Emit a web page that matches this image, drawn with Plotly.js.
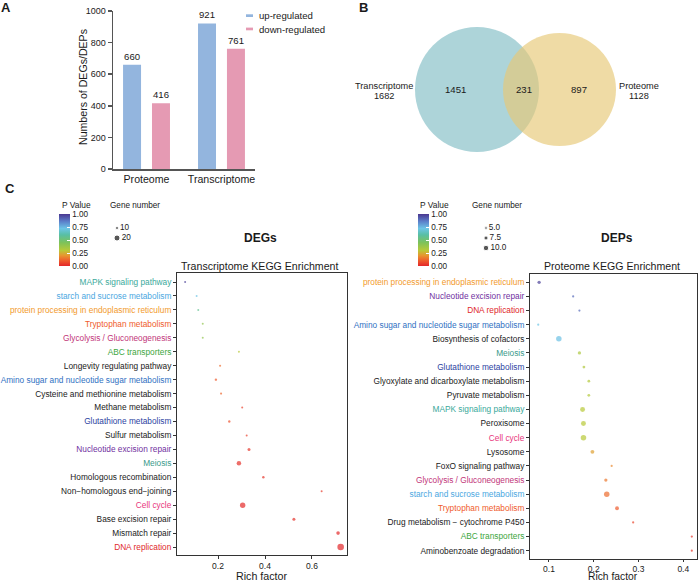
<!DOCTYPE html>
<html>
<head>
<meta charset="utf-8">
<script src="https://cdn.plot.ly/plotly-3.0.1.min.js"></script>
<style>
  html, body { margin: 0; padding: 0; background: #fff; }
  #chart { width: 700px; height: 582px; }
</style>
</head>
<body>
<div id="chart"></div>
<script>
// ---- Panel A: numbers of differentially expressed genes / proteins ----
const omicsLayers = ['Proteome', 'Transcriptome'];
const upRegulated = [660, 921];
const downRegulated = [416, 761];

// ---- Panel B: overlap of transcriptome and proteome ----
const vennSets = ['Transcriptome', 'Proteome'];
const vennTotals = [1682, 1128];
const transcriptomeOnly = 1451;
const sharedCount = 231;
const proteomeOnly = 897;

// ---- Panel C (left): transcriptome KEGG enrichment ----
const degPathways = [
  'MAPK signaling pathway',
  'starch and sucrose metabolism',
  'protein processing in endoplasmic reticulum',
  'Tryptophan metabolism',
  'Glycolysis / Gluconeogenesis',
  'ABC transporters',
  'Longevity regulating pathway',
  'Amino sugar and nucleotide sugar metabolism',
  'Cysteine and methionine metabolism',
  'Methane metabolism',
  'Glutathione metabolism',
  'Sulfur metabolism',
  'Nucleotide excision repair',
  'Meiosis',
  'Homologous recombination',
  'Non\u2212homologous end\u2212joining',
  'Cell cycle',
  'Base excision repair',
  'Mismatch repair',
  'DNA replication'
];
const degRichFactor = [0.060, 0.109, 0.116, 0.135, 0.135, 0.289, 0.209, 0.191, 0.213, 0.303,
                       0.248, 0.322, 0.332, 0.289, 0.393, 0.641, 0.305, 0.523, 0.711, 0.722];
const degPValue = [0.98, 0.72, 0.56, 0.40, 0.40, 0.30, 0.13, 0.10, 0.12, 0.05,
                   0.08, 0.05, 0.03, 0.02, 0.03, 0.04, 0.01, 0.02, 0.005, 0.001];
const degGeneNumber = [5, 4, 6, 5, 5, 4, 7, 8, 7, 5,
                       8, 5, 10, 15, 8, 5, 18, 10, 12, 22];

// ---- Panel C (right): proteome KEGG enrichment ----
const depPathways = [
  'protein processing in endoplasmic reticulum',
  'Nucleotide excision repair',
  'DNA replication',
  'Amino sugar and nucleotide sugar metabolism',
  'Biosynthesis of cofactors',
  'Meiosis',
  'Glutathione metabolism',
  'Glyoxylate and dicarboxylate metabolism',
  'Pyruvate metabolism',
  'MAPK signaling pathway',
  'Peroxisome',
  'Cell cycle',
  'Lysosome',
  'FoxO signaling pathway',
  'Glycolysis / Gluconeogenesis',
  'starch and sucrose metabolism',
  'Tryptophan metabolism',
  'Drug metabolism \u2212 cytochrome P450',
  'ABC transporters',
  'Aminobenzoate degradation'
];
const depRichFactor = [0.078, 0.154, 0.168, 0.076, 0.122, 0.168, 0.178, 0.189, 0.189, 0.175,
                       0.177, 0.177, 0.197, 0.240, 0.227, 0.229, 0.252, 0.288, 0.419, 0.419];
const depPValue = [0.98, 0.90, 0.90, 0.72, 0.73, 0.33, 0.32, 0.31, 0.31, 0.30,
                   0.30, 0.30, 0.22, 0.18, 0.15, 0.13, 0.10, 0.06, 0.03, 0.03];
const depGeneNumber = [6, 4, 4, 4, 10, 6, 5, 5, 5, 9,
                       9, 10, 7, 4, 6, 10, 7, 4, 4, 4];

// ---- legend keys ----
const degSizeKeys = [10, 20];
const depSizeKeys = [5.0, 7.5, 10.0];
const pValueTicks = [0, 0.25, 0.5, 0.75, 1];

// ---- styling ----
const FONT = 'Liberation Sans, Arial, Helvetica, sans-serif';
const INK = '#1a1a1a';
const W = 700, H = 582;
const fx = x => x / W;        // pixel column -> paper x
const fy = y => 1 - y / H;    // pixel row -> paper y

const pathwayColor = {
  'MAPK signaling pathway': '#3aa99b',
  'starch and sucrose metabolism': '#4aa7df',
  'protein processing in endoplasmic reticulum': '#f29a2c',
  'Tryptophan metabolism': '#ef5b2b',
  'Glycolysis / Gluconeogenesis': '#bf3479',
  'ABC transporters': '#3da63d',
  'Amino sugar and nucleotide sugar metabolism': '#3071c2',
  'Glutathione metabolism': '#2c3f9f',
  'Nucleotide excision repair': '#7030a0',
  'Meiosis': '#3a9a8a',
  'Cell cycle': '#e8357d',
  'DNA replication': '#e0282b'
};
const styledLabel = name => pathwayColor[name]
  ? `<span style="color:${pathwayColor[name]}">${name}</span>` : name;

const pColorscale = [
  [0.00, '#e3262a'], [0.10, '#ee5a2c'], [0.20, '#e8952f'], [0.30, '#b8c938'],
  [0.45, '#7dc25a'], [0.60, '#58bfa5'], [0.72, '#6cc5e6'], [0.86, '#5b7ec9'],
  [1.00, '#4a3790']
];
const degSizeRef = 20 / 6;
const depSizeRef = 10 / 5.5;

function colorbarAt(leftPx) {
  return {
    x: fx(leftPx), xanchor: 'left', xpad: 0,
    y: fy(214), yanchor: 'top', ypad: 0,
    len: 52, lenmode: 'pixels',
    thickness: 11, thicknessmode: 'pixels',
    outlinewidth: 0,
    tickmode: 'array', tickvals: pValueTicks,
    ticktext: pValueTicks.map(v => v.toFixed(2)),
    ticks: 'inside', ticklen: 3, tickcolor: '#ffffff', tickwidth: 1,
    tickfont: { family: FONT, size: 8.2, color: INK }
  };
}

const traces = [
  // Panel A bars
  {
    type: 'bar', x: omicsLayers, y: upRegulated, name: 'up-regulated',
    xaxis: 'x', yaxis: 'y', width: 0.24, offset: -0.313,
    marker: { color: '#93b5de' },
    text: upRegulated.map(String), textposition: 'outside', cliponaxis: false,
    textfont: { family: FONT, size: 9.6, color: INK }
  },
  {
    type: 'bar', x: omicsLayers, y: downRegulated, name: 'down-regulated',
    xaxis: 'x', yaxis: 'y', width: 0.24, offset: 0.073,
    marker: { color: '#e59ab3' },
    text: downRegulated.map(String), textposition: 'outside', cliponaxis: false,
    textfont: { family: FONT, size: 9.6, color: INK }
  },
  // Panel C left: bubble plot
  {
    type: 'scatter', mode: 'markers', x: degRichFactor, y: degPathways,
    xaxis: 'x3', yaxis: 'y3', cliponaxis: false,
    marker: {
      size: degGeneNumber, sizemode: 'diameter', sizeref: degSizeRef, sizemin: 1,
      color: degPValue, cmin: 0, cmax: 1, colorscale: pColorscale,
      showscale: true, colorbar: colorbarAt(59), line: { width: 0 }
    }
  },
  // Panel C right: bubble plot
  {
    type: 'scatter', mode: 'markers', x: depRichFactor, y: depPathways,
    xaxis: 'x4', yaxis: 'y4', cliponaxis: false,
    marker: {
      size: depGeneNumber, sizemode: 'diameter', sizeref: depSizeRef, sizemin: 1,
      color: depPValue, cmin: 0, cmax: 1, colorscale: pColorscale,
      showscale: true, colorbar: colorbarAt(418), line: { width: 0 }
    }
  },
  // Gene number keys
  {
    type: 'scatter', mode: 'markers+text', xaxis: 'x5', yaxis: 'y5',
    x: degSizeKeys.map(() => 0), y: degSizeKeys.map((_, i) => i),
    text: degSizeKeys.map(String), textposition: 'middle right', cliponaxis: false,
    textfont: { family: FONT, size: 8.2, color: INK },
    marker: { size: degSizeKeys, sizemode: 'diameter', sizeref: degSizeRef, color: '#111' }
  },
  {
    type: 'scatter', mode: 'markers+text', xaxis: 'x6', yaxis: 'y6',
    x: depSizeKeys.map(() => 0), y: depSizeKeys.map((_, i) => i),
    text: depSizeKeys.map(v => v.toFixed(1)), textposition: 'middle right', cliponaxis: false,
    textfont: { family: FONT, size: 8.2, color: INK },
    marker: { size: depSizeKeys, sizemode: 'diameter', sizeref: depSizeRef, color: '#111' }
  }
];

const frameAxis = {
  showline: true, mirror: true, linecolor: '#333', linewidth: 1,
  showgrid: false, zeroline: false,
  ticks: 'outside', ticklen: 3, tickcolor: '#333', tickwidth: 1
};
const hiddenAxis = { visible: false, showgrid: false, zeroline: false, fixedrange: true };

const layout = {
  width: W, height: H,
  margin: { l: 0, r: 0, t: 0, b: 0 },
  paper_bgcolor: '#ffffff', plot_bgcolor: 'rgba(0,0,0,0)',
  font: { family: FONT, color: INK },
  showlegend: false,
  // Panel A axes
  xaxis: {
    domain: [fx(113), fx(255)], anchor: 'y', type: 'category',
    range: [-0.447, 1.447], showline: true, linecolor: '#555', linewidth: 1.5,
    ticks: '', showgrid: false, zeroline: false,
    tickfont: { family: FONT, size: 10.6, color: INK }
  },
  yaxis: {
    domain: [fy(169), fy(11)], anchor: 'x', range: [0, 1000],
    tickmode: 'array', tickvals: [0, 200, 400, 600, 800, 1000],
    ticks: 'outside', ticklen: 4, tickcolor: '#555', tickwidth: 1.5,
    showline: true, linecolor: '#555', linewidth: 1.5,
    showgrid: false, zeroline: false,
    tickfont: { family: FONT, size: 9, color: INK }
  },
  // Panel C left axes
  xaxis3: Object.assign({}, frameAxis, {
    domain: [fx(177), fx(347)], anchor: 'y3', range: [0.0255, 0.749],
    tickmode: 'array', tickvals: [0.2, 0.4, 0.6], ticktext: ['0.2', '0.4', '0.6'],
    tickfont: { family: FONT, size: 8.5, color: INK }
  }),
  yaxis3: Object.assign({}, frameAxis, {
    domain: [fy(555), fy(273)], anchor: 'x3', type: 'category',
    categoryorder: 'array', categoryarray: degPathways,
    range: [19.57, -0.645],
    tickmode: 'array', tickvals: degPathways, ticktext: degPathways.map(styledLabel),
    tickfont: { family: FONT, size: 8.3, color: INK }
  }),
  // Panel C right axes
  xaxis4: Object.assign({}, frameAxis, {
    domain: [fx(530), fx(697)], anchor: 'y4', range: [0.0576, 0.4306],
    tickmode: 'array', tickvals: [0.1, 0.2, 0.3, 0.4], ticktext: ['0.1', '0.2', '0.3', '0.4'],
    ticklen: 2,
    tickfont: { family: FONT, size: 8.5, color: INK }
  }),
  yaxis4: Object.assign({}, frameAxis, {
    domain: [fy(559), fy(274)], anchor: 'x4', type: 'category',
    categoryorder: 'array', categoryarray: depPathways,
    range: [19.59, -0.59],
    tickmode: 'array', tickvals: depPathways, ticktext: depPathways.map(styledLabel),
    tickfont: { family: FONT, size: 8.3, color: INK }
  }),
  // Gene number key axes
  xaxis5: Object.assign({}, hiddenAxis, { domain: [fx(110), fx(160)], anchor: 'y5', range: [-7, 43] }),
  yaxis5: Object.assign({}, hiddenAxis, { domain: [fy(250), fy(220)], anchor: 'x5', range: [2.2, -0.8] }),
  xaxis6: Object.assign({}, hiddenAxis, { domain: [fx(478), fx(540)], anchor: 'y6', range: [-8, 54] }),
  yaxis6: Object.assign({}, hiddenAxis, { domain: [fy(258), fy(220)], anchor: 'x6', range: [3, -0.8] }),

  shapes: [
    // Venn circles
    { type: 'circle', xref: 'paper', yref: 'paper', layer: 'below',
      x0: fx(415), x1: fx(539), y0: fy(152), y1: fy(27),
      fillcolor: 'rgba(118,184,191,0.6)', line: { width: 0 } },
    { type: 'circle', xref: 'paper', yref: 'paper', layer: 'below',
      x0: fx(503), x1: fx(616), y0: fy(146), y1: fy(33),
      fillcolor: 'rgba(231,201,118,0.66)', line: { width: 0 } },
    // Panel A legend keys
    { type: 'rect', xref: 'paper', yref: 'paper', x0: fx(246), x1: fx(253), y0: fy(17), y1: fy(14.3),
      fillcolor: '#93b5de', line: { width: 0 } },
    { type: 'rect', xref: 'paper', yref: 'paper', x0: fx(246), x1: fx(253), y0: fy(30.3), y1: fy(27.6),
      fillcolor: '#e59ab3', line: { width: 0 } }
  ],
  annotations: []
};

function note(text, x, y, size, opts) {
  layout.annotations.push(Object.assign({
    text: text, x: fx(x), y: fy(y), xref: 'paper', yref: 'paper',
    showarrow: false, xanchor: 'center', yanchor: 'middle',
    font: { family: FONT, size: size, color: INK }
  }, opts || {}));
}

// Panel letters
note('<b>A</b>', 6, 8, 13);
note('<b>B</b>', 363, 8, 13);
note('<b>C</b>', 10, 189, 13);

// Panel A axis title and legend
note('Numbers of DEGs/DEPs', 83, 87, 10.6, { textangle: -90 });
note('up-regulated', 257, 15.5, 9.6, { xanchor: 'left' });
note('down-regulated', 257, 29, 9.6, { xanchor: 'left' });

// Panel B labels
note(vennSets[0], 383.5, 86, 9.2);
note(String(vennTotals[0]), 383.5, 96.5, 9.2);
note(vennSets[1], 639, 86, 9.2);
note(String(vennTotals[1]), 639, 96.5, 9.2);
note(String(transcriptomeOnly), 455, 89, 9.6);
note(String(sharedCount), 524, 89, 9.6);
note(String(proteomeOnly), 579, 89, 9.6);

// Panel C headers, axis titles and legend titles
note('<b>DEGs</b>', 260, 238, 12);
note('Transcriptome KEGG Enrichment', 259, 266, 10.6);
note('<b>DEPs</b>', 617, 238, 12);
note('Proteome KEGG Enrichment', 612, 266, 10.6);
note('Rich factor', 262, 576, 10.7);
note('Rich factor', 613, 576.5, 10.3, { yanchor: 'middle' });
note('P Value', 60, 205, 8.4, { xanchor: 'left' });
note('Gene number', 108, 205, 8.2, { xanchor: 'left' });
note('P Value', 418, 205, 8.4, { xanchor: 'left' });
note('Gene number', 470, 205, 8.2, { xanchor: 'left' });

Plotly.newPlot('chart', traces, layout, { staticPlot: true, displayModeBar: false });
</script>
</body>
</html>
